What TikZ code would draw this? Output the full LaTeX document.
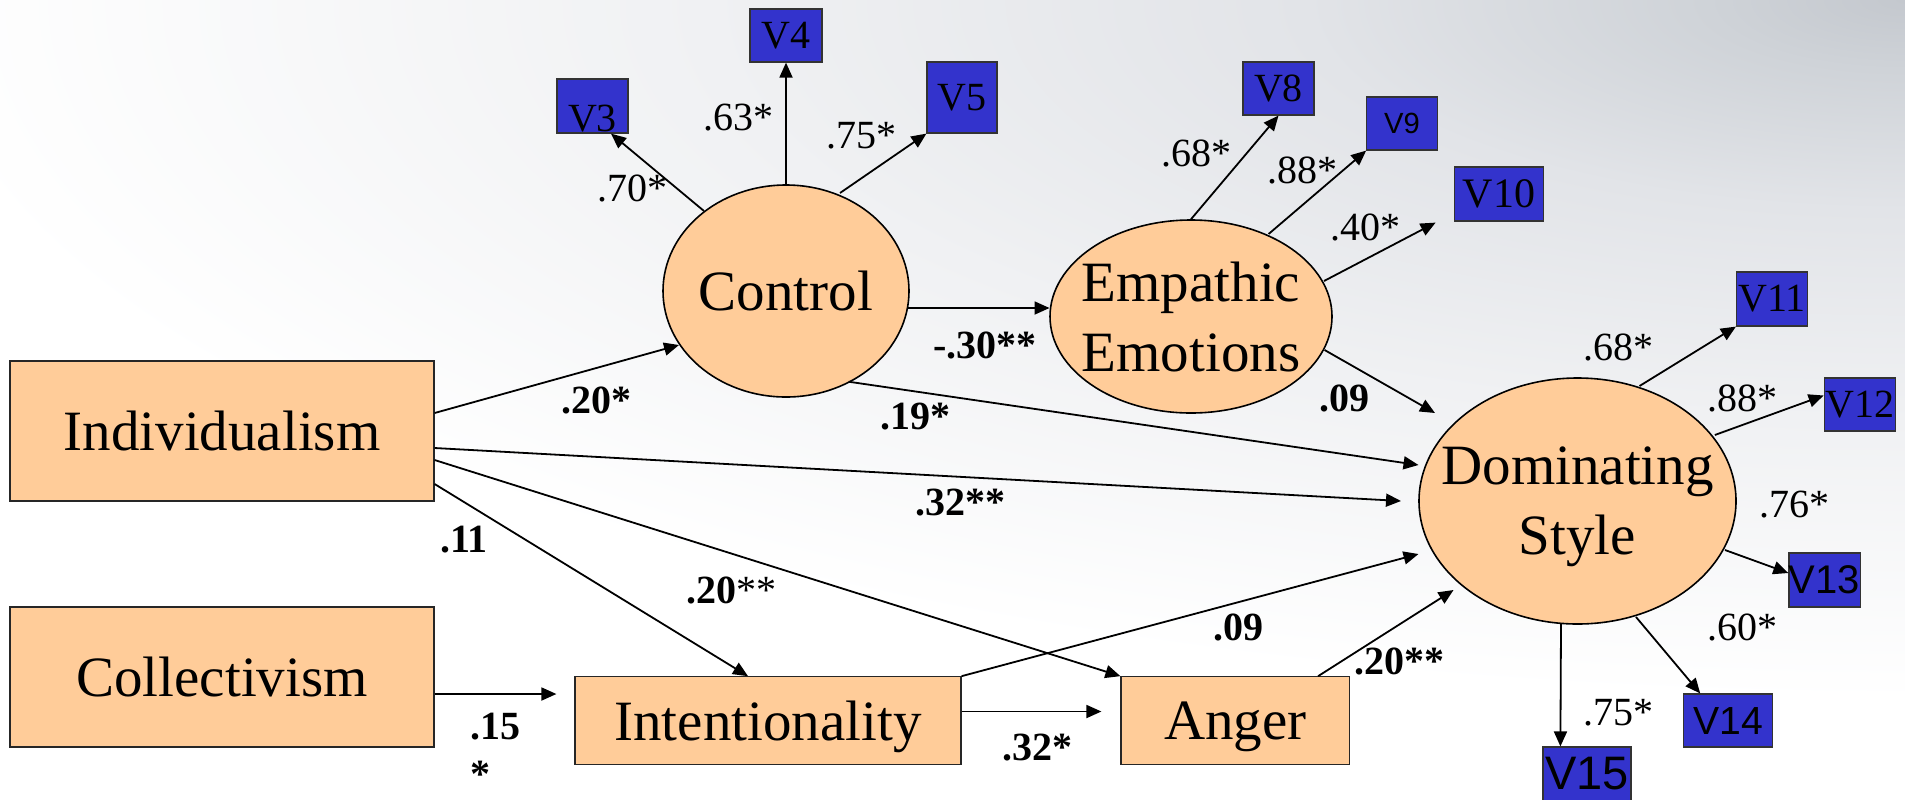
\documentclass[tikz,border=0pt]{standalone}
\usepackage{fontspec}
\setmainfont{Liberation Serif}
\newfontfamily\arialfont{Liberation Sans}
\usetikzlibrary{calc,shapes.geometric,arrows.meta}
\definecolor{peach}{HTML}{FFCC99}
\definecolor{vblue}{HTML}{3333CC}
\definecolor{bgA}{HTML}{C4C8CE}
\definecolor{bgB}{HTML}{CFD3D8}
\definecolor{bgC}{HTML}{E2E4E8}
\definecolor{bgD}{HTML}{F0F1F3}
\pgfdeclareradialshading{cornershade}{\pgfpoint{0bp}{0bp}}{color(0bp)=(bgA); color(2.5bp)=(bgB); color(7.5bp)=(bgC); color(15bp)=(bgD); color(25bp)=(white); color(50bp)=(white)}
\tikzset{
  boxnode/.style={rectangle, draw=black!85, line width=0.6pt, fill=peach, inner sep=0pt,
    font=\fontsize{28.5}{35}\selectfont, text depth=0pt, align=center},
  latent/.style={ellipse, draw=black, line width=0.8pt, fill=peach, inner ysep=0pt, inner xsep=-20pt,
    font=\fontsize{28.5}{35}\selectfont, text depth=0pt, align=center},
  vbox/.style={rectangle, draw=black!80, line width=0.6pt, fill=vblue, inner sep=0pt,
    font=\fontsize{20}{24}\selectfont},
  conn/.style={-{Triangle[length=7.5pt,width=6.5pt]}, line width=0.9pt},
  coef/.style={inner sep=0pt, font=\bfseries\fontsize{20}{24}\selectfont},
  load/.style={inner sep=0pt, font=\fontsize{20}{24}\selectfont}
}
\begin{document}
\begin{tikzpicture}[x=0.5pt,y=-0.5pt]
% background
\fill[white] (0,0) rectangle (1905,799);
\begin{scope}
  \clip (0,0) rectangle (1905,799);
  \shade[shading=cornershade] (1905,0) ellipse [x radius=2000, y radius=700];
\end{scope}
\useasboundingbox (0,0) rectangle (1905,799);

% observed / exogenous boxes
\node[boxnode, minimum width=212pt, minimum height=70pt] (indiv) at (222,431) {Individualism};
\node[boxnode, minimum width=212pt, minimum height=70pt] (coll) at (222,677) {Collectivism};
\node[boxnode, minimum width=193pt, minimum height=43.75pt] (intent) at (768,720.5) {Intentionality};
\node[boxnode, minimum width=114.25pt, minimum height=43.75pt] (anger) at (1235.25,720.5) {Anger};

% latent variables
\node[latent, minimum width=123pt, minimum height=106pt] (control) at (786,291) {Control};
\node[latent, minimum width=141pt, minimum height=96.5pt] (emp) at (1191,316.5) {Empathic\\Emotions};
\node[latent, minimum width=158.5pt, minimum height=123pt] (dom) at (1577.5,501) {Dominating\\Style};

% indicator boxes
\node[vbox, minimum width=35.5pt, minimum height=27pt] (v3) at (592.5,106) {\smash{\raisebox{-12.6pt}{V3}}};
\node[vbox, minimum width=36pt, minimum height=26.5pt] (v4) at (786,35.5) {V4};
\node[vbox, minimum width=35pt, minimum height=35.5pt] (v5) at (962,97.5) {V5};
\node[vbox, minimum width=35.5pt, minimum height=26.5pt] (v8) at (1278.5,88.5) {V8};
\node[vbox, minimum width=35.25pt, minimum height=26.5pt, font=\arialfont\fontsize{14.6}{17}\selectfont] (v9) at (1402,123.5) {V9};
\node[vbox, minimum width=44.8pt, minimum height=27pt, font=\fontsize{21}{25}\selectfont] (v10) at (1499,194) {V10};
\node[vbox, minimum width=35.5pt, minimum height=27pt] (v11) at (1772,299) {V11};
\node[vbox, minimum width=35.8pt, minimum height=26.5pt] (v12) at (1860,404.5) {V12};
\node[vbox, minimum width=35.5pt, minimum height=27pt, font=\arialfont\fontsize{20}{24}\selectfont] (v13) at (1824.5,580) {V13};
\node[vbox, minimum width=44.2pt, minimum height=26.5pt, font=\arialfont\fontsize{19.6}{24}\selectfont] (v14) at (1728,720.5) {V14};
\node[vbox, minimum width=44pt, minimum height=27pt, font=\arialfont\fontsize{23.5}{28}\selectfont] (v15) at (1587,774) {V15};

% structural paths
\draw[conn] ($(indiv.east)+(0,-18)$) -- ($(control.center)+(-107,54)$);
\draw[conn] ($(indiv.east)+(0,17)$) -- ($(dom.center)+(-176.5,0)$);
\draw[conn] ($(indiv.east)+(0,29)$) -- (anger.north west);
\draw[conn] ($(indiv.east)+(0,53)$) -- ($(intent.north)+(-20,0)$);
\draw[conn] ($(control.center)+(122,17)$) -- ($(emp.center)+(-141.5,-8.5)$);
\draw[conn] ($(control.center)+(62.6,90.7)$) -- ($(dom.center)+(-159,-36)$);
\draw[conn] ($(emp.center)+(133.6,33.5)$) -- ($(dom.center)+(-142.5,-88)$);
\draw[conn] ($(coll.east)+(0,17)$) -- ($(intent.west)+(-18,-26.5)$);
\draw[conn] ($(intent.east)+(0,-9)$) -- ($(anger.west)+(-19,-9)$);
\draw[conn] (intent.north east) -- ($(dom.center)+(-159,53)$);
\draw[conn] ($(anger.north east)+(-32,0)$) -- ($(dom.center)+(-124,89)$);

% measurement paths
\draw[conn] ($(control.center)+(-82,-80)$) -- ($(v3.south)+(18.5,0)$);
\draw[conn] (control.north) -- (v4.south);
\draw[conn] ($(control.center)+(54,-98)$) -- (v5.south west);
\draw[conn] (emp.north) -- (v8.south);
\draw[conn] ($(emp.center)+(77.6,-82.5)$) -- (v9.south west);
\draw[conn] ($(emp.center)+(133,-35.5)$) -- ($(v10.south west)+(-18,1)$);
\draw[conn] ($(dom.center)+(62,-115)$) -- (v11.south west);
\draw[conn] ($(dom.center)+(137.3,-66)$) -- ($(v12.west)+(0,-9)$);
\draw[conn] ($(dom.center)+(147.5,49)$) -- ($(v13.west)+(0,-7)$);
\draw[conn] ($(dom.center)+(58.5,116)$) -- ($(v14.north west)+(17,0)$);
\draw[conn] ($(dom.center)+(-16.5,122)$) -- ($(v15.north west)+(18,0)$);

% loading labels
\node[load] (l70) at (632,188) {.70*};
\node[load] (l63) at (738,118) {.63*};
\node[load] (l75a) at (861,136) {.75*};
\node[load] (l68a) at (1196,153) {.68*};
\node[load] (l88a) at (1302,170) {.88*};
\node[load] (l40) at (1365,227) {.40*};
\node[load] (l68b) at (1618,347) {.68*};
\node[load] (l88b) at (1742,398) {.88*};
\node[load] (l76) at (1794.5,505) {.76*};
\node[load] (l60) at (1742,627) {.60*};
\node[load] (l75b) at (1618,713) {.75*};

% path coefficients
\node[coef] (c1) at (596,400) {.20*};
\node[coef] (c2) at (985,345) {-.30**};
\node[coef] (c3) at (915,417) {.19*};
\node[coef] (c4) at (1344,398) {.09};
\node[coef] (c5) at (960,503) {.32**};
\node[coef] (c6) at (464,540) {.11};
\node[coef] (c7) at (731,590) {.20{\mdseries **}};
\node[coef] (c8) at (1238.5,627) {.09};
\node[coef] (c9) at (1399,661) {.20**};
\node[coef, align=left, font=\bfseries\fontsize{20}{24}\selectfont] (c10) at (495,750) {.15\\*};
\node[coef] (c11) at (1037.5,748) {.32*};
\end{tikzpicture}
\end{document}
